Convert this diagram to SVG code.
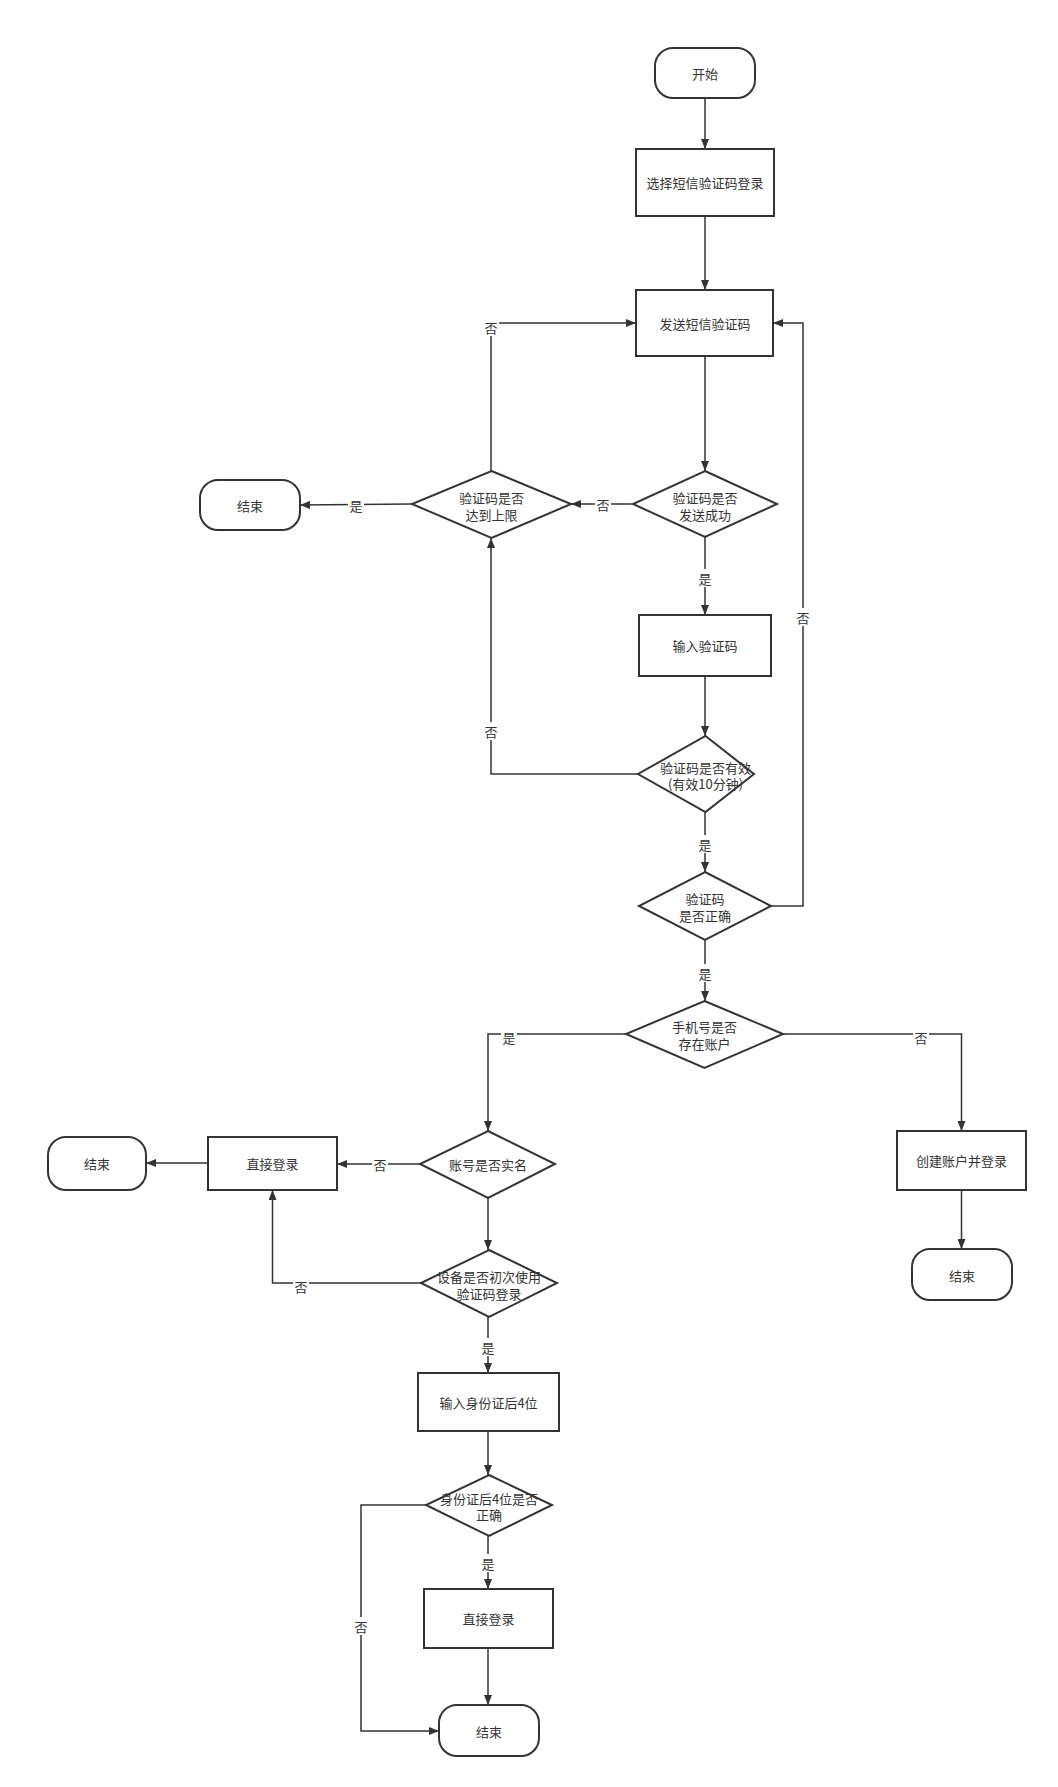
<svg xmlns="http://www.w3.org/2000/svg" width="1058" height="1787" viewBox="0 0 1058 1787">
<style>
.s{fill:#fff;stroke:#333;stroke-width:2}
.t{font-family:"Noto Sans CJK SC","Noto Sans",sans-serif;font-size:13px;fill:#333;text-anchor:middle;dominant-baseline:central}
.c{fill:none;stroke:#333;stroke-width:1.5;marker-end:url(#a)}
.lb{fill:#fff}
</style>
<defs>
<marker id="a" markerUnits="userSpaceOnUse" markerWidth="11" markerHeight="8" refX="10" refY="4" orient="auto">
<path d="M0,0 L10,4 L0,8 z" fill="#333"/>
</marker>
</defs>
<rect width="1058" height="1787" fill="#fff"/>
<g id="connectors">
<path class="c" d="M705,98 L705,149"/>
<path class="c" d="M705,216 L705,290"/>
<path class="c" d="M705,356 L705,471"/>
<path class="c" d="M632,504 L571,504"/>
<path class="c" d="M412,504 L300,505"/>
<path class="c" d="M491,471 L491,323 L636,323"/>
<path class="c" d="M705,537 L705,615"/>
<path class="c" d="M705,676 L705,736"/>
<path class="c" d="M638,774 L491,774 L491,538"/>
<path class="c" d="M705,812 L705,872"/>
<path class="c" d="M771,906 L803,906 L803,323 L773,323"/>
<path class="c" d="M705,940 L705,1001"/>
<path class="c" d="M626,1034 L488,1034 L488,1131"/>
<path class="c" d="M783,1034 L961.5,1034 L961.5,1131"/>
<path class="c" d="M420,1164 L337,1164"/>
<path class="c" d="M208,1163 L146,1163"/>
<path class="c" d="M488,1198 L488,1250"/>
<path class="c" d="M421,1283 L272.5,1283 L272.5,1190"/>
<path class="c" d="M488,1317 L488,1373"/>
<path class="c" d="M488,1431 L488,1475"/>
<path class="c" d="M426,1505 L361,1505 L361,1731 L439,1731"/>
<path class="c" d="M488,1536 L488,1589"/>
<path class="c" d="M488,1648 L488,1705"/>
<path class="c" d="M961.5,1190 L961.5,1249"/>
<g id="labels">
<rect class="lb" x="595" y="495" width="16" height="18"/><text class="t" x="603" y="504">否</text>
<rect class="lb" x="348" y="496" width="16" height="18"/><text class="t" x="356" y="505">是</text>
<rect class="lb" x="483" y="318" width="16" height="18"/><text class="t" x="491" y="327">否</text>
<rect class="lb" x="697" y="569" width="16" height="18"/><text class="t" x="705" y="578">是</text>
<rect class="lb" x="483" y="722" width="16" height="18"/><text class="t" x="491" y="731">否</text>
<rect class="lb" x="697" y="835" width="16" height="18"/><text class="t" x="705" y="844">是</text>
<rect class="lb" x="795" y="608" width="16" height="18"/><text class="t" x="803" y="617">否</text>
<rect class="lb" x="697" y="964" width="16" height="18"/><text class="t" x="705" y="973">是</text>
<rect class="lb" x="501" y="1028" width="16" height="18"/><text class="t" x="509" y="1037">是</text>
<rect class="lb" x="913" y="1028" width="16" height="18"/><text class="t" x="921" y="1037">否</text>
<rect class="lb" x="372" y="1155" width="16" height="18"/><text class="t" x="380" y="1164">否</text>
<rect class="lb" x="293" y="1277" width="16" height="18"/><text class="t" x="301" y="1286">否</text>
<rect class="lb" x="480" y="1338" width="16" height="18"/><text class="t" x="488" y="1347">是</text>
<rect class="lb" x="353" y="1617" width="16" height="18"/><text class="t" x="361" y="1626">否</text>
<rect class="lb" x="480" y="1554" width="16" height="18"/><text class="t" x="488" y="1563">是</text>
</g>
</g>
<g id="start"><rect class="s" x="655" y="48" width="100" height="50" rx="18"/><text class="t" x="705" y="73">开始</text></g>
<g id="select"><rect class="s" x="636" y="149" width="138" height="67"/><text class="t" x="705" y="182.5">选择短信验证码登录</text></g>
<g id="send"><rect class="s" x="636" y="290" width="137" height="66"/><text class="t" x="705" y="323">发送短信验证码</text></g>
<g id="sendok"><polygon class="s" points="705,471 777,504 705,537 633,504"/><text class="t" x="705" y="497">验证码是否</text><text class="t" x="705" y="514">发送成功</text></g>
<g id="limit"><polygon class="s" points="491.5,471 571,504 491.5,538 412,504"/><text class="t" x="491.5" y="497">验证码是否</text><text class="t" x="491.5" y="514">达到上限</text></g>
<g id="end1"><rect class="s" x="200" y="480" width="100" height="50" rx="18"/><text class="t" x="250" y="505">结束</text></g>
<g id="input"><rect class="s" x="639" y="615" width="132" height="61"/><text class="t" x="705" y="645.5">输入验证码</text></g>
<g id="valid"><polygon class="s" points="705.5,736 754,774 705.5,812 638,774"/><text class="t" x="705.5" y="767">验证码是否有效</text><text class="t" x="705.5" y="783">(有效10分钟)</text></g>
<g id="correct"><polygon class="s" points="705,872 771,906 705,940 639,906"/><text class="t" x="705" y="898">验证码</text><text class="t" x="705" y="915">是否正确</text></g>
<g id="exist"><polygon class="s" points="704.5,1001 783,1034 704.5,1068 626,1034"/><text class="t" x="704.5" y="1026">手机号是否</text><text class="t" x="704.5" y="1043">存在账户</text></g>
<g id="create"><rect class="s" x="897" y="1131" width="129" height="59"/><text class="t" x="961.5" y="1160.5">创建账户并登录</text></g>
<g id="end2"><rect class="s" x="912" y="1249" width="100" height="51" rx="18"/><text class="t" x="962" y="1275">结束</text></g>
<g id="realname"><polygon class="s" points="488,1131 555,1164 488,1198 420,1164"/><text class="t" x="488" y="1164">账号是否实名</text></g>
<g id="direct1"><rect class="s" x="208" y="1137" width="129" height="53"/><text class="t" x="272.5" y="1163.5">直接登录</text></g>
<g id="end3"><rect class="s" x="48" y="1137" width="98" height="53" rx="18"/><text class="t" x="97" y="1163.5">结束</text></g>
<g id="device"><polygon class="s" points="489,1250 557,1283 489,1317 421,1283"/><text class="t" x="489" y="1276">设备是否初次使用</text><text class="t" x="489" y="1293">验证码登录</text></g>
<g id="idinput"><rect class="s" x="418" y="1373" width="141" height="58"/><text class="t" x="488.5" y="1402">输入身份证后4位</text></g>
<g id="idok"><polygon class="s" points="489,1475 552,1505 489,1536 426,1505"/><text class="t" x="489" y="1498">身份证后4位是否</text><text class="t" x="489" y="1514">正确</text></g>
<g id="direct2"><rect class="s" x="424" y="1589" width="129" height="59"/><text class="t" x="488.5" y="1618.5">直接登录</text></g>
<g id="end4"><rect class="s" x="439" y="1705" width="100" height="51" rx="18"/><text class="t" x="489" y="1731">结束</text></g>
</svg>
